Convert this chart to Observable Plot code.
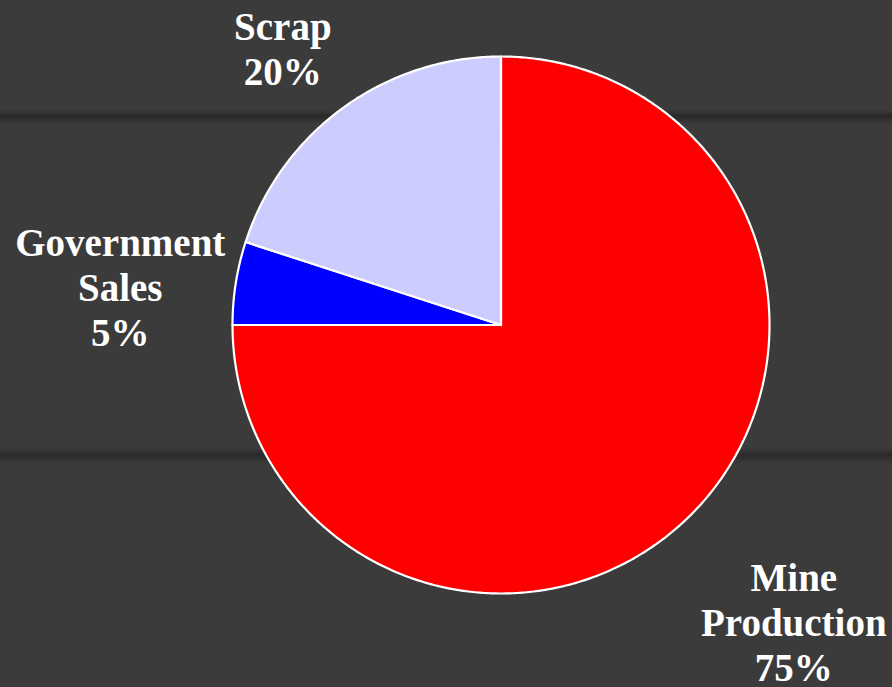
<!DOCTYPE html>
<html>
<head>
<meta charset="utf-8">
<script src="https://cdn.jsdelivr.net/npm/d3@7"></script>
<script src="https://cdn.jsdelivr.net/npm/@observablehq/plot@0.6"></script>
<style>
  html, body { margin: 0; padding: 0; background: #3b3b3b; }
  #chart { width: 892px; height: 687px; overflow: hidden;
    background:
      linear-gradient(180deg, rgba(0,0,0,0) 0, rgba(0,0,0,0) 110px, rgba(25,25,25,0.55) 116px, rgba(0,0,0,0) 124px),
      linear-gradient(180deg, rgba(0,0,0,0) 0, rgba(0,0,0,0) 448px, rgba(25,25,25,0.5) 455px, rgba(0,0,0,0) 464px),
      #3b3b3b; }
  svg { display: block; }
</style>
</head>
<body>
<div id="chart"></div>
<script>
// Data
const categories = ["Mine Production", "Government Sales", "Scrap"];
const labelLines = [["Mine", "Production"], ["Government", "Sales"], ["Scrap"]];
const values = [75, 5, 20];
const colors = ["#ff0000", "#0000ff", "#ccccff"];

// Layout (label placement: radius factor and pixel nudges)
const labelRadius = 1.3;
const labelNudge = { "Mine Production": [46, 50], "Government Sales": [-36, 16], "Scrap": [-13, 5.5] };
const R = 268.5; // pixels per unit radius (from margins below)

const total = d3.sum(values);
let acc = 0;
const pts = [];
const labels = [];
categories.forEach((c, i) => {
  const a0 = acc / total * 2 * Math.PI;
  acc += values[i];
  const a1 = acc / total * 2 * Math.PI;
  pts.push({ c, x: 0, y: 0 });
  const n = Math.max(2, Math.ceil((a1 - a0) / (Math.PI / 360)));
  for (let k = 0; k <= n; k++) {
    const a = a0 + (a1 - a0) * k / n;
    pts.push({ c, x: Math.sin(a), y: Math.cos(a) });
  }
  pts.push({ c, x: 0, y: 0 });
  const am = (a0 + a1) / 2;
  const [nx, ny] = labelNudge[c];
  labels.push({
    c,
    x: labelRadius * Math.sin(am) + nx / R,
    y: labelRadius * Math.cos(am) - ny / R,
    text: [...labelLines[i], Math.round(values[i] / total * 100) + "%"].join("\n")
  });
});

const chart = Plot.plot({
  width: 892,
  height: 687,
  marginLeft: 232,
  marginRight: 123,
  marginTop: 56,
  marginBottom: 94,
  x: { domain: [-1, 1], axis: null },
  y: { domain: [-1, 1], axis: null },
  color: { domain: categories, range: colors },
  style: { background: "transparent", overflow: "visible" },
  marks: [
    Plot.line(pts, { x: "x", y: "y", z: "c", fill: "c", stroke: "white", strokeWidth: 2.2, strokeLinejoin: "round" }),
    Plot.text(labels, {
      x: "x", y: "y", text: "text",
      fill: "white",
      fontSize: 39,
      fontWeight: "bold",
      fontFamily: "'Liberation Serif', 'Times New Roman', serif",
      lineHeight: 1.154,
      textAnchor: "middle"
    })
  ]
});
document.getElementById("chart").appendChild(chart);
</script>
</body>
</html>
